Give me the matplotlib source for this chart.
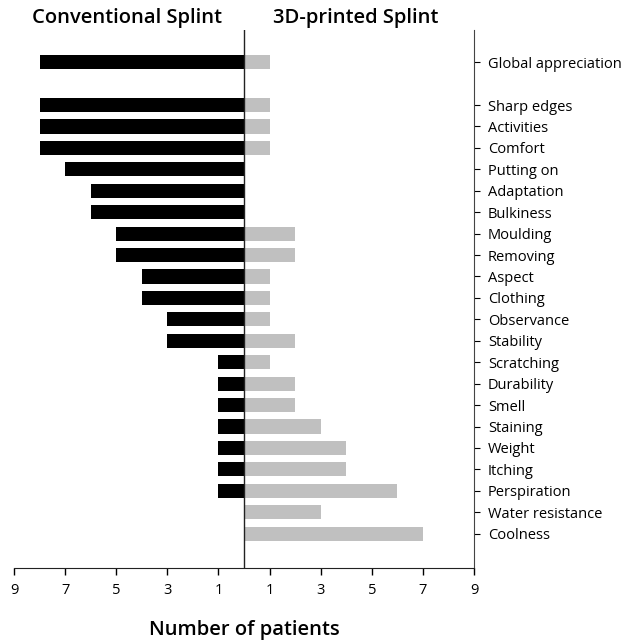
import numpy as np
import matplotlib.pyplot as plt

plt.rcParams['font.family'] = ['Open Sans', 'DejaVu Sans']

items = ["Global appreciation", "Sharp edges", "Activities", "Comfort", "Putting on",
         "Adaptation", "Bulkiness", "Moulding", "Removing", "Aspect", "Clothing",
         "Observance", "Stability", "Scratching", "Durability", "Smell", "Staining",
         "Weight", "Itching", "Perspiration", "Water resistance", "Coolness"]
conventional = [8, 8, 8, 8, 7, 6, 6, 5, 5, 4, 4, 3, 3, 1, 1, 1, 1, 1, 1, 1, 0, 0]
printed3d = [1, 1, 1, 1, 0, 0, 0, 2, 2, 1, 1, 1, 2, 1, 2, 2, 3, 4, 4, 6, 3, 7]
xticks = [-9, -7, -5, -3, -1, 1, 3, 5, 7, 9]

# global appreciation sits apart, one empty slot below it
ypos = np.array([0] + list(range(2, len(items) + 1)))

fig = plt.figure(figsize=(6.22, 6.41), dpi=100)
ax = fig.add_axes([14/622, 1 - 568/641, 460/622, 538/641])

ax.barh(ypos, [-v for v in conventional], height=0.66, color='black')
ax.barh(ypos, printed3d, height=0.66, color='#c0c0c0')
ax.axvline(0, color='#222222', lw=1)

ax.set_xlim(-9, 9)
ax.set_ylim(23.6, -1.5)
ax.set_xticks(xticks)
ax.set_xticklabels([str(abs(t)) for t in xticks], fontsize=10.5)
ax.set_yticks(ypos)
ax.set_yticklabels(items, fontsize=10.5)
ax.yaxis.tick_right()
ax.tick_params(axis='y', direction='out', length=4, width=0.8, pad=6)
ax.tick_params(axis='x', direction='out', length=5, width=1, pad=6)

for s in ['top', 'left']:
    ax.spines[s].set_visible(False)
ax.spines['right'].set_color('#444444')
ax.spines['bottom'].set_color('#222222')

fig.text(127/622, 1 - 18/641, "Conventional Splint", ha='center', va='center',
         fontsize=14.5, fontweight='semibold')
fig.text(356/622, 1 - 18/641, "3D-printed Splint", ha='center', va='center',
         fontsize=14.5, fontweight='semibold')
fig.text(244/622, 1 - 630/641, "Number of patients", ha='center', va='center',
         fontsize=14.5, fontweight='semibold')

fig.savefig('out.png', dpi=100)
